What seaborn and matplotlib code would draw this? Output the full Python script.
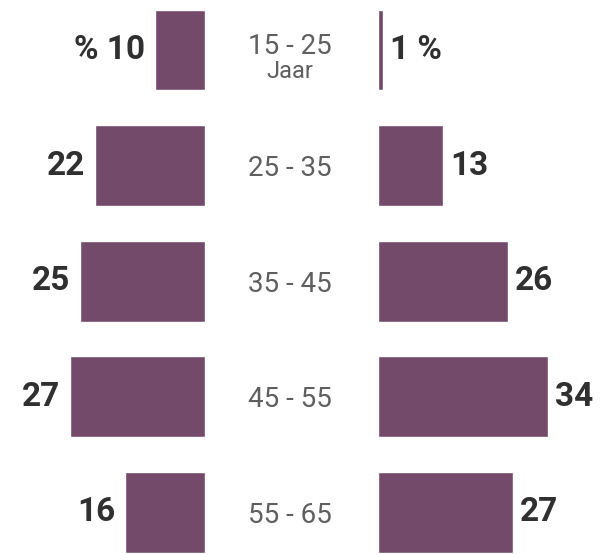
import matplotlib
matplotlib.use("Agg")
import matplotlib.pyplot as plt
import seaborn as sns
import pandas as pd

age_groups = ["15 - 25", "25 - 35", "35 - 45", "45 - 55", "55 - 65"]
left_values = [10, 22, 25, 27, 16]
right_values = [1, 13, 26, 34, 27]
left_labels = ["% 10", "22", "25", "27", "16"]
right_labels = ["1 %", "13", "26", "34", "27"]
sub_label = "Jaar"

color = "#744a6b"
W, H = 602, 554

sns.set_theme(style="white")
plt.rcParams["font.family"] = ["Roboto", "DejaVu Sans"]

fig = plt.figure(figsize=(W / 100, H / 100), dpi=100)
fig.patch.set_facecolor("white")

px_per_unit = 5.0
left_edge = 205
right_edge = 378

axL = fig.add_axes([0, 0, left_edge / W, 1])
axR = fig.add_axes([right_edge / W, 0, (W - right_edge) / W, 1])

df = pd.DataFrame({"age": age_groups, "left": left_values, "right": right_values})

sns.barplot(data=df, y="age", x="left", ax=axL, color=color, width=0.7,
            saturation=1, orient="h")
sns.barplot(data=df, y="age", x="right", ax=axR, color=color, width=0.7,
            saturation=1, orient="h")

ytop = -50 / 115.6
ybot = 4 + (H - 512.5) / 115.6
for ax in (axL, axR):
    ax.set_ylim(ybot, ytop)
    ax.axis("off")
axL.set_xlim(left_edge / px_per_unit, 0)
axR.set_xlim(0, (W - right_edge) / px_per_unit)

val_kw = dict(va="center", fontsize=24, fontweight="bold", color="#303030")
for i, (v, lab) in enumerate(zip(left_values, left_labels)):
    axL.annotate(lab, (v, i), xytext=(-7, 0), textcoords="offset points",
                 ha="right", **val_kw)
for i, (v, lab) in enumerate(zip(right_values, right_labels)):
    axR.annotate(lab, (v, i), xytext=(5, 0), textcoords="offset points",
                 ha="left", **val_kw)

cx = 290 / W
mid_kw = dict(ha="center", va="center", color="#5f5f5f", fontweight="normal")
for i, g in enumerate(age_groups):
    yc = 50 + i * 115.6
    if i == 0:
        fig.text(cx, 1 - (yc - 3) / H, g, fontsize=20, **mid_kw)
        fig.text(cx, 1 - (yc + 22) / H, sub_label, fontsize=17, **mid_kw)
    else:
        fig.text(cx, 1 - (yc + 3) / H, g, fontsize=20, **mid_kw)

fig.savefig("out.png", dpi=100, facecolor="white")
